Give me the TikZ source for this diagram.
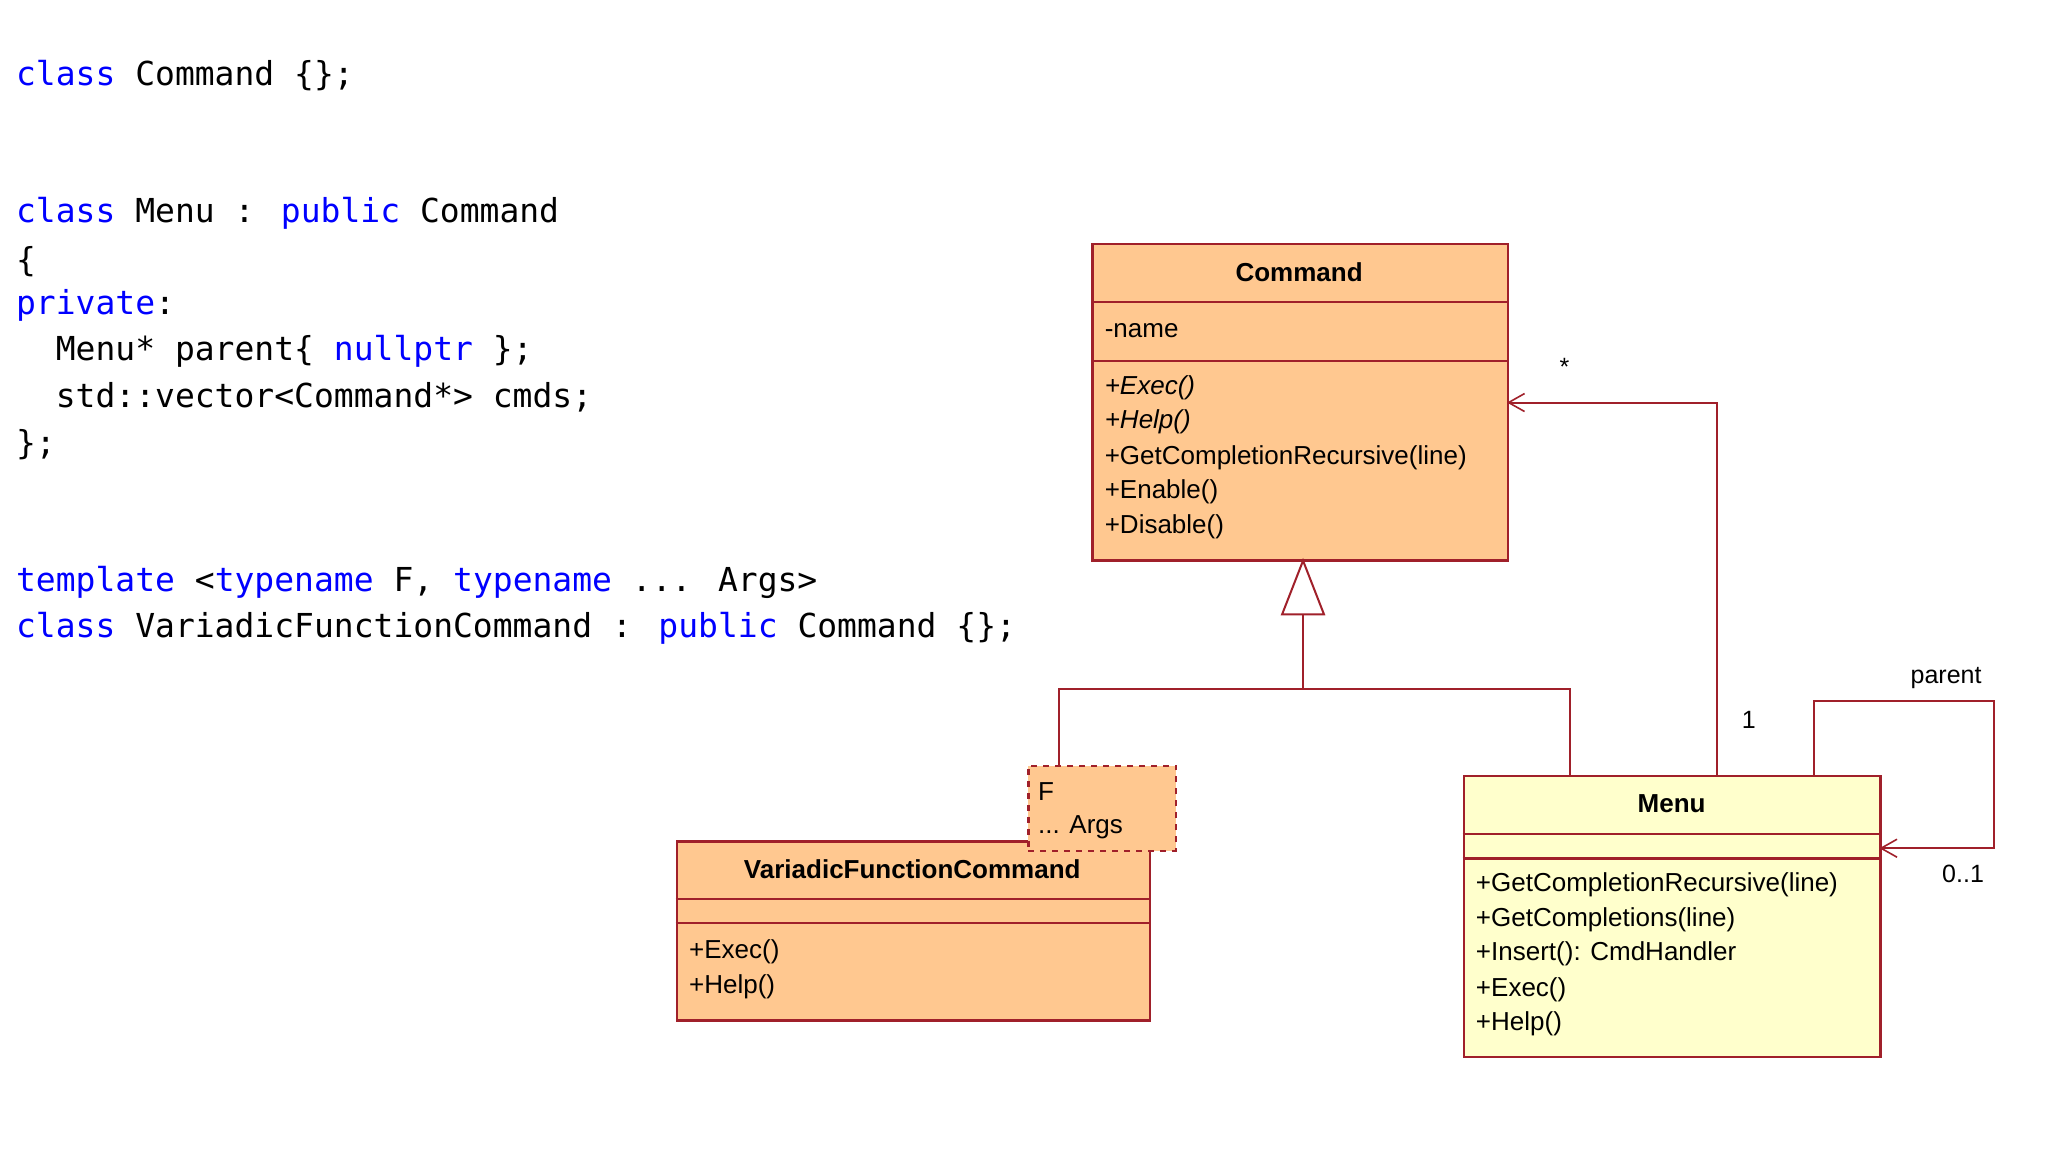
\documentclass[tikz,border=0pt]{standalone}
\usepackage{fontspec}
\setmainfont{Liberation Sans}
\newfontfamily\codefont{DejaVu Sans Mono}
\usetikzlibrary{arrows.meta}
\definecolor{umlred}{HTML}{A0202A}
\definecolor{umlorange}{HTML}{FFC890}
\definecolor{umlyellow}{HTML}{FFFFCC}
\definecolor{kw}{HTML}{0000FF}
\begin{document}
\begin{tikzpicture}[x=0.6535pt,y=-0.6535pt,
  code/.style={anchor=west,inner sep=0,font=\codefont\fontsize{16.5}{18}\selectfont},
  box/.style={draw=umlred,line width=1.2pt,inner sep=0,anchor=north west},
  mem/.style={anchor=west,inner sep=0,font=\fontsize{13}{15}\selectfont},
  ttl/.style={inner sep=0,font=\bfseries\fontsize{13}{15}\selectfont},
  lbl/.style={inner sep=0,font=\fontsize{12.5}{15}\selectfont},
  conn/.style={draw=umlred,line width=1pt},
  open/.style={-{Straight Barb[length=8pt,width=9pt,line width=0.8pt]}}]
\useasboundingbox (0,0) rectangle (1567,881.5);
\fill[white] (0,0) rectangle (1567,881.5);
% code
\node[code] (c1) at (12,58) {\textcolor{kw}{class} Command \{\};};
\node[code] (c2) at (12,163) {\textcolor{kw}{class} Menu : \textcolor{kw}{public} Command};
\node[code] (c3) at (12,200) {\{};
\node[code] (c4) at (12,234) {\textcolor{kw}{private}:};
\node[code] (c5) at (12,269) {\ \ Menu* parent\{ \textcolor{kw}{nullptr} \};};
\node[code] (c6) at (12,304) {\ \ std::vector<Command*> cmds;};
\node[code] (c7) at (12,340) {\};};
\node[code] (c8) at (12,446) {\textcolor{kw}{template} <\textcolor{kw}{typename} F, \textcolor{kw}{typename} ... Args>};
\node[code] (c9) at (12,481) {\textcolor{kw}{class} VariadicFunctionCommand : \textcolor{kw}{public} Command \{\};};
% Command
\node[box,fill=umlorange,minimum width=318*0.6535pt,minimum height=242*0.6535pt] (cmd) at (835,186) {};
\draw[umlred,line width=1.2pt] (835,231) -- (1153,231) (835,276) -- (1153,276);
\node[ttl] (cmdt) at (994,208) {Command};
\node[mem] (cm0) at (845,253) {-name};
\node[mem] (cm1) at (845,297) {\itshape +Exec()};
\node[mem] (cm2) at (845,323) {\itshape +Help()};
\node[mem] (cm3) at (845,350) {+GetCompletionRecursive(line)};
\node[mem] (cm4) at (845,376) {+Enable()};
\node[mem] (cm5) at (845,403) {+Disable()};
% VFC
\node[box,fill=umlorange,minimum width=362*0.6535pt,minimum height=137*0.6535pt] (vfc) at (517,643) {};
\draw[umlred,line width=1.2pt] (517,688) -- (879,688) (517,706) -- (879,706);
\node[ttl] (vfct) at (698,665) {VariadicFunctionCommand};
\node[mem] (v1) at (527,728) {+Exec()};
\node[mem] (v2) at (527,755) {+Help()};
% template
\node[box,fill=umlorange,dashed,minimum width=113*0.6535pt,minimum height=65*0.6535pt] (tpl) at (786,585) {};
\node[mem] (t1) at (794,606) {F};
\node[mem] (t2) at (794,633) {... Args};
% Menu
\node[box,fill=umlyellow,minimum width=319*0.6535pt,minimum height=215*0.6535pt] (menu) at (1119,593) {};
\draw[umlred,line width=1.2pt] (1119,638) -- (1438,638) (1119,657) -- (1438,657);
\node[ttl] (menut) at (1279,615) {Menu};
\node[mem] (m1) at (1129,677) {+GetCompletionRecursive(line)};
\node[mem] (m2) at (1129,704) {+GetCompletions(line)};
\node[mem] (m3) at (1129,730) {+Insert(): CmdHandler};
\node[mem] (m4) at (1129,757) {+Exec()};
\node[mem] (m5) at (1129,783) {+Help()};
% generalization
\coordinate (tip) at (997,429);
\coordinate (tb) at (997,470);
\coordinate (j) at (997,527);
\draw[umlred,line width=1pt,fill=white] (tip) -- (981,470) -- (1013,470) -- cycle;
\draw[conn] (tb) -- (j);
\draw[conn] (810,585) -- (810,527) -- (1201,527) -- (1201,593);
% association
\coordinate (a1) at (1314,593);
\coordinate (a2) at (1153,308);
\draw[conn,open] (a1) -- (1314,308) -- (a2);
\node[lbl] (star) at (1197,281) {*};
\node[lbl] (one) at (1338,551) {1};
% self
\coordinate (s1) at (1388,593);
\coordinate (s2) at (1438,649);
\draw[conn,open] (s1) -- (1388,536) -- (1526,536) -- (1526,649) -- (s2);
\node[lbl] (par) at (1489,519) {parent};
\node[lbl] (mul) at (1502,669) {0..1};
\end{tikzpicture}
\end{document}
